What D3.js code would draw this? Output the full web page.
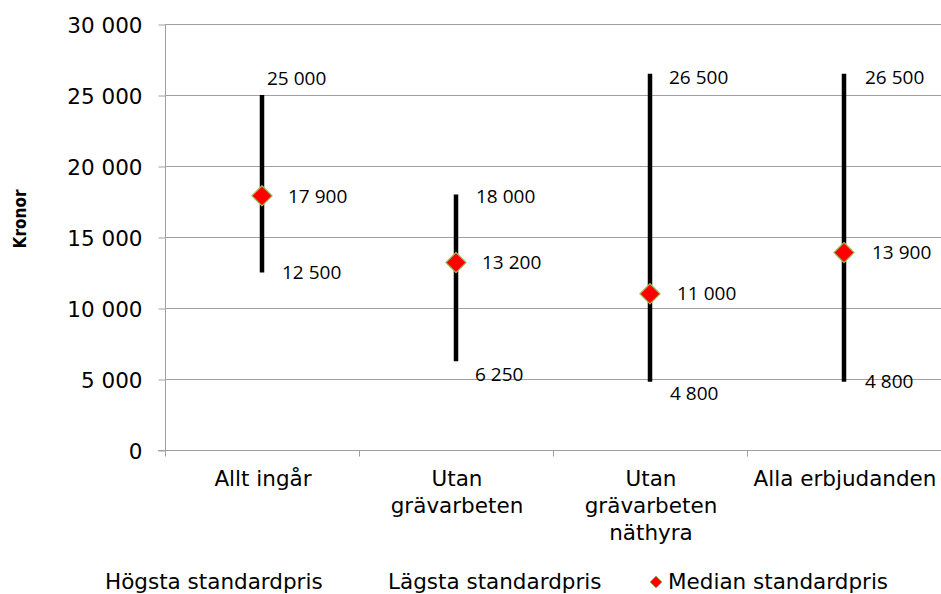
<!DOCTYPE html>
<html>
<head>
<meta charset="utf-8">
<script src="https://cdn.jsdelivr.net/npm/d3@7"></script>
<style>
  body { margin: 0; background: #fff; }
  text { fill: #000; }
</style>
</head>
<body>
<div id="chart"></div>
<script>
// chart data
var categories = ["Allt ingår", "Utan\ngrävarbeten", "Utan\ngrävarbeten\nnäthyra", "Alla erbjudanden"];
var highValues = [25000, 18000, 26500, 26500];
var lowValues = [12500, 6250, 4800, 4800];
var medianValues = [17900, 13200, 11000, 13900];
var yTicks = [0, 5000, 10000, 15000, 20000, 25000, 30000];
var legendNames = ["Högsta standardpris", "Lägsta standardpris", "Median standardpris"];

// manual label nudges (dx, dy) as placed in the original
var highOffsets = [[5, -17], [20, 2], [19, 4], [21, 4]];
var lowOffsets = [[20, 0], [19, 13], [20, 12], [21, 0]];
var medianOffsets = [[26, 1], [26, 0], [27, 0], [28, 0]];

var svgWidth = 941;
var svgHeight = 594;

var margin = { top: 24, right: 0, bottom: 144, left: 165 };
var width = svgWidth - margin.left - margin.right;
var height = svgHeight - margin.top - margin.bottom;

var fmt = d3.formatLocale({ decimal: ",", thousands: "\u00a0", grouping: [3], currency: ["", " kr"] }).format(",d");

var svg = d3.select("#chart")
  .append("svg")
  .attr("width", svgWidth)
  .attr("height", svgHeight);

var chartGroup = svg.append("g")
  .attr("transform", `translate(${margin.left}, ${margin.top})`);

var xScale = d3.scaleBand()
  .domain(categories)
  .range([0, width]);

var yScale = d3.scaleLinear()
  .domain([0, 30000])
  .range([height, 0]);

// gridlines
chartGroup.append("g")
  .selectAll("line")
  .data(yTicks.filter(d => d > 0))
  .enter()
  .append("line")
  .attr("x1", 0)
  .attr("x2", width)
  .attr("y1", d => yScale(d) + 0.5)
  .attr("y2", d => yScale(d) + 0.5)
  .attr("stroke", "#a0a0a0")
  .attr("stroke-width", 1);

// y axis
var leftAxis = d3.axisLeft(yScale)
  .tickValues(yTicks)
  .tickSize(7)
  .tickPadding(16)
  .tickFormat(fmt);

var yAxis = chartGroup.append("g")
  .attr("transform", "translate(0.5, 0.5)")
  .call(leftAxis);
yAxis.select(".domain").attr("stroke", "#a0a0a0").attr("d", `M0,0V${height}`);
yAxis.selectAll(".tick line").attr("stroke", "#a0a0a0");
yAxis.selectAll(".tick text")
  .attr("font-family", "DejaVu Sans")
  .attr("font-size", "21.5px")
  .attr("dy", "0.36em");

// x axis
var xAxisG = chartGroup.append("g")
  .attr("transform", `translate(0, ${height + 0.5})`);
xAxisG.append("line")
  .attr("x1", -7)
  .attr("x2", width)
  .attr("stroke", "#a0a0a0");
xAxisG.selectAll("line.tk")
  .data(d3.range(categories.length + 1))
  .enter()
  .append("line")
  .attr("class", "tk")
  .attr("x1", d => Math.round(d * xScale.step()) + 0.5)
  .attr("x2", d => Math.round(d * xScale.step()) + 0.5)
  .attr("y1", 0)
  .attr("y2", 6)
  .attr("stroke", "#a0a0a0");

var catLabels = xAxisG.selectAll("text.cat")
  .data(categories)
  .enter()
  .append("text")
  .attr("class", "cat")
  .attr("font-family", "DejaVu Sans")
  .attr("font-size", "21.5px")
  .attr("text-anchor", "middle")
  .attr("transform", d => `translate(${xScale(d) + xScale.bandwidth() / 2 + 1}, 35)`);

catLabels.each(function(d) {
  var lines = d.split("\n");
  d3.select(this).selectAll("tspan")
    .data(lines)
    .enter()
    .append("tspan")
    .attr("x", 0)
    .attr("y", (l, i) => i * 27)
    .text(l => l);
});

// y axis title
svg.append("text")
  .attr("transform", "translate(26, 219) rotate(-90)")
  .attr("text-anchor", "middle")
  .attr("font-family", "DejaVu Sans Condensed")
  .attr("font-weight", "bold")
  .attr("font-size", "17px")
  .text("Kronor");

var cx = (d, i) => xScale(categories[i]) + xScale.bandwidth() / 2;

// high-low lines
chartGroup.selectAll("line.hilo")
  .data(categories)
  .enter()
  .append("line")
  .attr("class", "hilo")
  .attr("x1", (d, i) => cx(d, i))
  .attr("x2", (d, i) => cx(d, i))
  .attr("y1", (d, i) => yScale(highValues[i]))
  .attr("y2", (d, i) => yScale(lowValues[i]))
  .attr("stroke", "#000")
  .attr("stroke-width", 4.5);

// median diamonds
var diamond = d3.symbol().type(d3.symbolDiamond2).size(260);

chartGroup.selectAll("path.median")
  .data(medianValues)
  .enter()
  .append("path")
  .attr("class", "median")
  .attr("d", diamond)
  .attr("transform", (d, i) => `translate(${cx(d, i)}, ${yScale(d)})`)
  .attr("fill", "#ff0000")
  .attr("stroke", "#9bbb59")
  .attr("stroke-width", 1.2);

// data labels
function addLabels(values, offsets) {
  chartGroup.append("g")
    .selectAll("text")
    .data(values)
    .enter()
    .append("text")
    .attr("x", (d, i) => cx(d, i) + offsets[i][0])
    .attr("y", (d, i) => yScale(d) + offsets[i][1])
    .attr("dy", "0.35em")
    .attr("font-family", "Open Sans")
    .attr("font-size", "19px")
    .text(d => fmt(d));
}
addLabels(highValues, highOffsets);
addLabels(lowValues, lowOffsets);
addLabels(medianValues, medianOffsets);

// legend
var legend = svg.append("g")
  .attr("font-family", "DejaVu Sans")
  .attr("font-size", "21.5px");

legend.append("text").attr("x", 105).attr("y", 589).text(legendNames[0]);
legend.append("text").attr("x", 388).attr("y", 589).text(legendNames[1]);
legend.append("path")
  .attr("d", d3.symbol().type(d3.symbolDiamond2).size(90))
  .attr("transform", "translate(656, 582)")
  .attr("fill", "#ff0000")
  .attr("stroke", "#9bbb59")
  .attr("stroke-width", 1);
legend.append("text").attr("x", 668).attr("y", 589).text(legendNames[2]);
</script>
</body>
</html>
